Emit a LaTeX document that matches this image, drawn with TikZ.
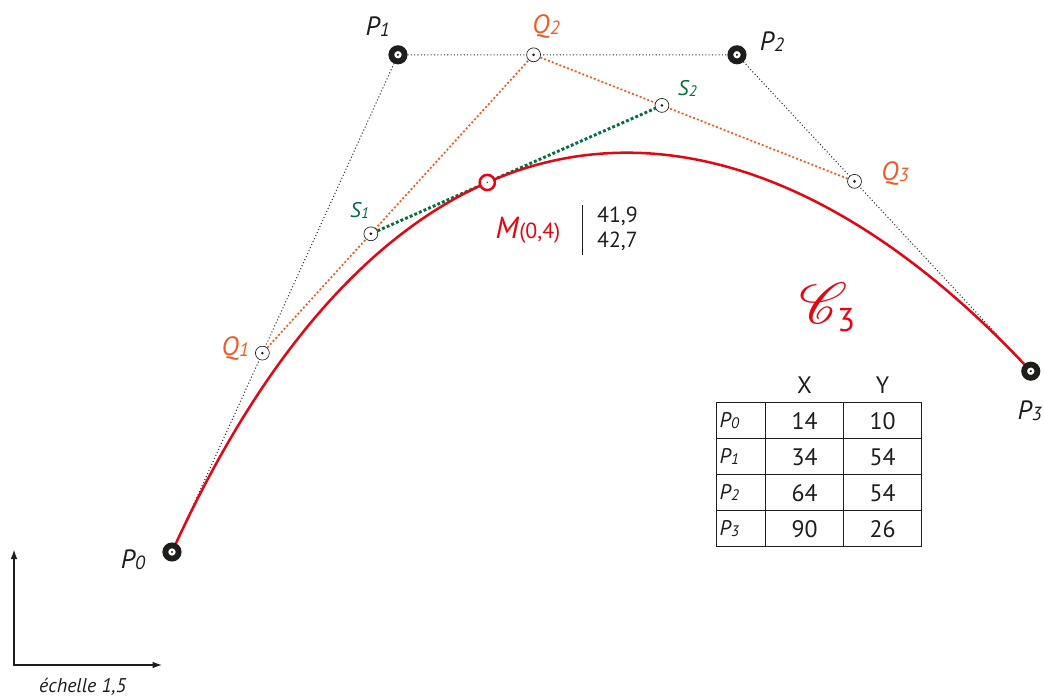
\documentclass[tikz,border=0pt]{standalone}
\usepackage{fontspec}
\setmainfont{PT Sans}
\usepackage{mathrsfs}
\usepackage{graphicx}
\usepackage{xcolor}
\usepackage{tikz}
\usetikzlibrary{calc,matrix,backgrounds,arrows.meta}
\definecolor{ink}{HTML}{1D1D1B}
\definecolor{curvered}{HTML}{E30613}
\definecolor{qorange}{HTML}{EF5B25}
\definecolor{sgreen}{HTML}{00703C}
\definecolor{dotblue}{HTML}{1B3A8C}
\newcommand{\ptlab}[2]{\textit{#1\kern0.2pt\raisebox{-0.6pt}{\scalebox{0.72}{#2}}}}
\tikzset{
  ctrl/.style={circle, draw=ink, line width=4.4pt, fill=white, inner sep=0pt, minimum size=10pt,
    path picture={\fill[ink] (path picture bounding box.center) circle (0.9pt);}},
  mid/.style={circle, draw=ink, line width=0.5pt, fill=white, inner sep=0pt, minimum size=10.5pt,
    path picture={\fill[ink] (path picture bounding box.center) circle (1.1pt);}},
  mpt/.style={circle, draw=curvered, line width=1.9pt, fill=white, inner sep=0pt, minimum size=11.5pt,
    path picture={\fill[dotblue] (path picture bounding box.center) circle (0.6pt);}},
  poly/.style={ink!90, line width=0.8pt, dash pattern=on 0.8pt off 1.7pt},
  qline/.style={qorange, line width=1.3pt, dash pattern=on 1.5pt off 1.6pt},
  sline/.style={sgreen, line width=2.2pt, dash pattern=on 2.2pt off 1.6pt},
  bez/.style={curvered, line width=1.9pt},
  lbl/.style={inner sep=0pt, font=\fontsize{20}{20}\selectfont},
  slbl/.style={inner sep=0pt, font=\fontsize{16}{16}\selectfont, text=sgreen}
}

\begin{document}
\begin{tikzpicture}[x=0.3cm, y=0.3cm]
  \useasboundingbox (-1.22,-2.83) rectangle (91.17,58.85);

  % control points
  \node[ctrl] (p0) at (14,10) {};
  \node[ctrl] (p1) at (34,54) {};
  \node[ctrl] (p2) at (64,54) {};
  \node[ctrl] (p3) at (90,26) {};
  % construction for t = 0,4
  \node[mid] (q1) at ($(p0)!0.4!(p1)$) {};
  \node[mid] (q2) at ($(p1)!0.4!(p2)$) {};
  \node[mid] (q3) at ($(p2)!0.4!(p3)$) {};
  \node[mid] (s1) at ($(q1)!0.4!(q2)$) {};
  \node[mid] (s2) at ($(q2)!0.4!(q3)$) {};
  \node[mpt] (m) at ($(s1)!0.4!(s2)$) {};

  \begin{scope}[on background layer]
    \draw[poly] (p0) -- (p1) -- (p2) -- (p3);
    \draw[qline] (q1) -- (q2) -- (q3);
    \draw[sline] (s1) -- (s2);
    \draw[bez] (p0.center) .. controls (p1.center) and (p2.center) .. (p3.center);
  \end{scope}

  % labels
  \node[lbl, text=ink] (p0lab) at (10.55,9.29) {\ptlab{P}{0}};
  \node[lbl, text=ink] (p1lab) at (32.2,56.5) {\ptlab{P}{1}};
  \node[lbl, text=ink] (p2lab) at (67.1,55.2) {\ptlab{P}{2}};
  \node[lbl, text=ink] (p3lab) at (89.9,22.5) {\ptlab{P}{3}};
  \node[lbl, text=qorange] (q1lab) at (19.6,28.0) {\ptlab{Q}{1}};
  \node[lbl, text=qorange] (q2lab) at (47.1,56.5) {\ptlab{Q}{2}};
  \node[lbl, text=qorange] (q3lab) at (78.0,43.5) {\ptlab{Q}{3}};
  \node[slbl] (s1lab) at (30.6,40.2) {\ptlab{S}{1}};
  \node[slbl] (s2lab) at (59.6,51.0) {\ptlab{S}{2}};
  \node[inner sep=0pt, text=curvered, font=\fontsize{23}{23}\selectfont] (mlab) at (45.5,38.5)
    {\textit{M}{\fontsize{16.5}{16.5}\selectfont(0,4)}};
  \coordinate (bartop) at (50.37,40.7);
  \coordinate (barbot) at (50.37,36.3);
  \draw[ink, line width=0.8pt] (bartop) -- (barbot);
  \node[inner sep=0pt, anchor=west, align=left, text=ink, font=\fontsize{16.5}{18.8}\selectfont] (mval) at (51.6,38.62)
    {41,9\\42,7};
  \node[inner sep=0pt, text=curvered, font=\fontsize{24}{24}\selectfont] (cname) at (72.0,31.6)
    {\scalebox{1.75}{$\mathscr{C}$}\kern-8pt\raisebox{-6pt}{\fontsize{25}{25}\selectfont 3}};

  % table of coordinates
  \matrix (coords) [matrix of nodes, anchor=north west, inner sep=0pt, column sep=-0.6pt, row sep=-0.6pt,
    nodes={draw=ink, line width=0.6pt, minimum height=0.956cm, inner sep=0pt, anchor=center,
      text=ink, font=\fontsize{18}{18}\selectfont},
    column 1/.style={nodes={text width=1.14cm, inner xsep=0.08cm, align=left, font=\fontsize{16}{16}\selectfont}},
    column 2/.style={nodes={minimum width=2.07cm}},
    column 3/.style={nodes={minimum width=2.07cm}},
    row 1/.style={nodes={draw=none}}] at (62.14,26.38) {
      & X & Y \\
    \ptlab{P}{0} & 14 & 10 \\
    \ptlab{P}{1} & 34 & 54 \\
    \ptlab{P}{2} & 64 & 54 \\
    \ptlab{P}{3} & 90 & 26 \\
  };

  % axes
  \coordinate (origin) at (0.02,0);
  \coordinate (yend) at (0.02,10.2);
  \coordinate (xend) at (13.1,0);
  \draw[{Latex[length=7pt,width=5pt]}-{Latex[length=7pt,width=5pt]}, ink, line width=0.8pt] (yend) -- (origin) -- (xend);
  \node[inner sep=0pt, text=ink, font=\fontsize{15}{15}\selectfont\itshape] (scale) at (6.1,-1.9) {échelle 1,5};
\end{tikzpicture}
\end{document}
